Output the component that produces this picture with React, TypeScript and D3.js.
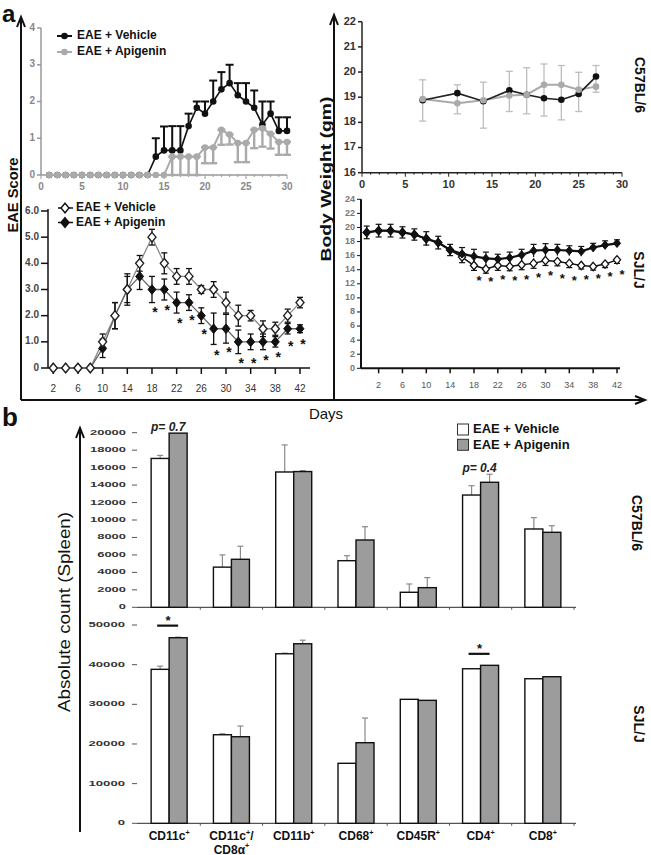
import React from 'react';
import * as d3 from 'd3';

const FONT = '"Liberation Sans", Arial, Helvetica, sans-serif';

// ---------- Panel a: C57BL/6 EAE score ----------
const c57Days = [1,2,3,4,5,6,7,8,9,10,11,12,13,14,15,16,17,18,19,20,21,22,23,24,25,26,27,28,29,30];
const c57VehScore = [0,0,0,0,0,0,0,0,0,0,0,0,0,0.5,0.67,0.67,0.67,1.33,1.83,1.67,2.0,2.33,2.5,2.17,2.0,1.83,1.37,1.67,1.2,1.2];
const c57VehScoreErr = [0,0,0,0,0,0,0,0,0,0,0,0,0,0.5,0.65,0.66,0.66,0.34,0.17,0.33,0.57,0.47,0.5,0.33,0.5,0.47,0.63,0.33,0.37,0.37];
const c57ApiScore = [0,0,0,0,0,0,0,0,0,0,0,0,0,0,0,0.5,0.5,0.5,0.5,0.75,0.75,1.23,1.1,0.87,0.87,1.23,1.27,1.12,0.9,0.9];
const c57ApiScoreErr = [0,0,0,0,0,0,0,0,0,0,0,0,0,0,0,0.5,0.5,0.5,0.5,0.43,0.43,0.41,0.27,0.52,0.52,0.5,0.5,0.4,0.35,0.35];
const c57ScoreXTicks = [0,5,10,15,20,25,30];
const c57ScoreYTicks = [0,1,2,3,4];

// ---------- Panel a: SJL/J EAE score ----------
const sjlDays = [2,4,6,8,10,12,14,16,18,20,22,24,26,28,30,32,34,36,38,40,42];
const sjlVehScore = [0,0,0,0,1.0,2.0,3.0,4.0,5.0,4.0,3.5,3.5,3.0,3.0,2.5,2.0,2.0,1.5,1.5,2.0,2.5];
const sjlVehScoreErr = [0,0,0,0,0.3,0.5,0.5,0.3,0.3,0.4,0.3,0.3,0.15,0.3,0.4,0.4,0.2,0.3,0.25,0.25,0.2];
const sjlApiScore = [0,0,0,0,0.75,2.0,3.0,3.5,3.0,3.0,2.5,2.5,2.0,1.5,1.5,1.0,1.0,1.0,1.0,1.5,1.5];
const sjlApiScoreErr = [0,0,0,0,0.35,0.5,0.6,0.5,0.5,0.4,0.4,0.3,0.3,0.6,0.55,0.45,0.3,0.3,0.2,0.2,0.15];
const sjlScoreStarDays = [18,20,22,24,26,28,30,32,34,36,38,40,42];
const sjlScoreStarLevel = [2.24,2.32,1.84,1.94,1.39,0.59,0.7,0.29,0.29,0.42,0.51,0.95,1.01];
const sjlScoreXTicks = [2,6,10,14,18,22,26,30,34,38,42];
const sjlScoreYTicks = [0,1,2,3,4,5,6];

// ---------- Panel a: C57BL/6 body weight ----------
const c57WtDays = [7,11,14,17,19,21,23,25,27];
const c57VehWt = [18.88,19.16,18.84,19.27,19.1,18.96,18.9,19.13,19.82];
const c57ApiWt = [18.93,18.76,18.88,19.07,19.1,19.49,19.49,19.3,19.42];
const c57WtErrHigh = [19.69,19.49,19.6,20.03,20.17,20.32,20.26,19.99,20.26];
const c57WtErrLow = [18.05,18.34,17.77,18.43,18.34,18.25,18.1,18.43,19.2];
const c57WtXTicks = [0,5,10,15,20,25,30];
const c57WtYTicks = [16,17,18,19,20,21,22];

// ---------- Panel a: SJL/J body weight ----------
const sjlWtDays = [0,2,4,6,8,10,12,14,16,18,20,22,24,26,28,30,32,34,36,38,40,42];
const sjlApiWt = [19.3,19.55,19.55,19.3,19.0,18.4,17.85,16.8,16.25,15.9,15.6,15.5,15.7,16.1,16.7,16.8,16.8,16.7,16.6,17.15,17.5,17.75];
const sjlApiWtErr = [0.9,0.9,0.9,0.8,0.8,1.0,0.9,0.8,0.9,1.0,0.9,0.7,0.8,0.8,0.9,0.9,0.8,0.7,0.7,0.6,0.6,0.5];
const sjlVehWt = [19.3,19.55,19.55,19.3,19.0,18.4,17.85,16.8,15.8,14.6,14.1,14.6,14.45,14.7,14.9,15.3,15.15,14.9,14.6,14.45,14.8,15.4];
const sjlVehWtErr = [0.9,0.9,0.9,0.8,0.8,0.9,0.9,0.8,0.8,0.7,0.6,0.7,0.6,0.7,0.7,0.7,0.6,0.6,0.5,0.5,0.5,0.5];
const sjlWtStarDays = [18,20,22,24,26,28,30,32,34,36,38,40,42];
const sjlWtStarLevel = [12.8,12.65,12.94,12.8,12.94,13.27,13.6,13.13,12.8,13.03,13.13,13.41,13.74];
const sjlWtXTicks = [2,6,10,14,18,22,26,30,34,38,42];
const sjlWtYTicks = [0,2,4,6,8,10,12,14,16,18,20,22,24];

// ---------- Panel b: spleen counts ----------
const cellTypes = ['CD11c+', 'CD11c+/CD8α+', 'CD11b+', 'CD68+', 'CD45R+', 'CD4+', 'CD8+'];
const cellTypeLines = [['CD11c+'], ['CD11c+/', 'CD8α+'], ['CD11b+'], ['CD68+'], ['CD45R+'], ['CD4+'], ['CD8+']];
const c57CountVeh = [17050, 4600, 15500, 5340, 1720, 12860, 8970];
const c57CountVehErr = [350, 1400, 3100, 570, 950, 1070, 1300];
const c57CountApi = [19950, 5500, 15550, 7710, 2250, 14320, 8590];
const c57CountApiErr = [0, 1500, 100, 1520, 1150, 920, 760];
const sjlCountVeh = [38820, 22330, 42750, 15130, 31260, 38970, 36450];
const sjlCountVehErr = [800, 250, 150, 0, 0, 0, 0];
const sjlCountApi = [46790, 21830, 45270, 20320, 31000, 39830, 36960];
const sjlCountApiErr = [150, 2700, 900, 6220, 0, 0, 0];
const c57CountTicks = [0,2000,4000,6000,8000,10000,12000,14000,16000,18000,20000];
const sjlCountTicks = [0,10000,20000,30000,40000,50000];
const c57PValues = [{ cat: 'CD11c+', text: 'p= 0.7' }, { cat: 'CD4+', text: 'p= 0.4' }];
const sjlSignificant = ['CD11c+', 'CD4+'];

const legendLabels = ['EAE + Vehicle', 'EAE + Apigenin'];

// ---------- helpers ----------
const diamond = (x: number, y: number, h: number, w: number) =>
  `M${x},${y - h}L${x + w},${y}L${x},${y + h}L${x - w},${y}Z`;

function Star({ x, y, size = 13 }: { x: number; y: number; size?: number }) {
  return (
    <text x={x} y={y + size * 0.55} fontSize={size} fontWeight="bold" textAnchor="middle" fill="#111">*</text>
  );
}

function SupText({ str, x, y, size, weight = 'bold' }: { str: string; x: number; y: number; size: number; weight?: string }) {
  const parts = str.split('+');
  const out: any[] = [];
  parts.forEach((p, i) => {
    if (p.length) out.push(<tspan key={'t' + i} dy={i > 0 ? size * 0.42 : 0}>{p}</tspan>);
    if (i < parts.length - 1) out.push(<tspan key={'s' + i} fontSize={size * 0.6} dy={-size * 0.42}>+</tspan>);
  });
  return (
    <text x={x} y={y} fontSize={size} fontWeight={weight} textAnchor="middle" fill="#111">{out}</text>
  );
}

export default function App() {
  // scales for panel a
  const tlX = d3.scaleLinear().domain([0, 30]).range([41, 287]);
  const tlY = d3.scaleLinear().domain([0, 4]).range([175, 28]);
  const blX = d3.scaleLinear().domain([2, 42]).range([53.3, 300]);
  const blY = d3.scaleLinear().domain([0, 6]).range([368, 211]);
  const trX = d3.scaleLinear().domain([0, 30]).range([362, 622]);
  const trY = d3.scaleLinear().domain([16, 22]).range([172.7, 21.7]);
  const brX = d3.scaleLinear().domain([0, 42]).range([366.7, 617]);
  const brY = d3.scaleLinear().domain([0, 24]).range([368.3, 199.3]);

  // scales for panel b
  const bx = d3.scaleBand().domain(cellTypes).range([138, 574]);
  const bw = 18;
  const topY = d3.scaleLinear().domain([0, 20000]).range([607.3, 432.7]);
  const botY = d3.scaleLinear().domain([0, 50000]).range([823.3, 625]);

  const lineOf = (xs: number[], ys: number[], sx: any, sy: any) =>
    d3.line<number>().x((_, i) => sx(xs[i])).y((d) => sy(d))(ys) || '';

  const tlMinor = d3.range(0, 31);
  const trMinor = d3.range(0, 31);

  const bandC = (c: string) => (bx(c) as number) + bx.bandwidth() / 2;

  const renderBars = (
    vals: number[], errs: number[], vals2: number[], errs2: number[], sy: any
  ) =>
    cellTypes.map((c, i) => {
      const cx = bandC(c);
      const y0 = sy(0);
      const bars = [
        { x: cx - bw, v: vals[i], e: errs[i], fill: '#ffffff' },
        { x: cx, v: vals2[i], e: errs2[i], fill: '#9c9c9c' },
      ];
      return (
        <g key={c}>
          {bars.map((b, j) => (
            <g key={j}>
              {b.e > 0 && (
                <g stroke="#8a8a8a" strokeWidth={1.2}>
                  <line x1={b.x + bw / 2} x2={b.x + bw / 2} y1={sy(b.v)} y2={sy(b.v + b.e)} />
                  <line x1={b.x + bw / 2 - 3} x2={b.x + bw / 2 + 3} y1={sy(b.v + b.e)} y2={sy(b.v + b.e)} />
                </g>
              )}
              <rect x={b.x} y={sy(b.v)} width={bw} height={y0 - sy(b.v)} fill={b.fill} stroke="#111" strokeWidth={1.4} />
            </g>
          ))}
        </g>
      );
    });

  return (
    <svg width={651} height={855} style={{ position: 'absolute', left: 0, top: 0, background: '#fff' }} fontFamily={FONT}>
      <rect x={0} y={0} width={651} height={855} fill="#fff" />

      {/* ===== panel labels ===== */}
      <text x={2} y={22} fontSize={24} fontWeight="bold" fill="#111">a</text>
      <text x={2} y={426} fontSize={26} fontWeight="bold" fill="#111">b</text>

      {/* ===== frame arrows panel a ===== */}
      <g stroke="#111" strokeWidth={2} fill="none">
        <line x1={21} y1={18} x2={21} y2={400} />
        <path d="M17,27L21,17L25,27" />
        <line x1={334} y1={16} x2={334} y2={400} />
        <path d="M330,25L334,15L338,25" />
        <line x1={21} y1={400} x2={644} y2={400} />
        <path d="M635,396L645,400L635,404" />
      </g>
      <text transform="translate(14,195) rotate(-90)" textAnchor="middle" dominantBaseline="middle" fontSize={15} fontWeight="bold" fill="#111" textLength={75} lengthAdjust="spacingAndGlyphs">EAE Score</text>
      <text transform="translate(327,179) rotate(-90)" textAnchor="middle" dominantBaseline="middle" fontSize={15} fontWeight="bold" fill="#111" textLength={165} lengthAdjust="spacingAndGlyphs">Body Weight (gm)</text>
      <text x={326} y={419} textAnchor="middle" fontSize={15} fill="#111">Days</text>
      <text transform="translate(639,85) rotate(90)" textAnchor="middle" dominantBaseline="middle" fontSize={14} fontWeight="bold" fill="#111">C57BL/6</text>
      <text transform="translate(638,270) rotate(90)" textAnchor="middle" dominantBaseline="middle" fontSize={14} fontWeight="bold" fill="#111">SJL/J</text>

      {/* ===== top-left: C57 EAE score ===== */}
      <g>
        <g stroke="#999" strokeWidth={1.5}>
          <line x1={tlX(0)} x2={tlX(0)} y1={tlY(4)} y2={tlY(0)} />
          <line x1={tlX(0)} x2={tlX(30)} y1={tlY(0)} y2={tlY(0)} />
          {c57ScoreYTicks.map((t) => (
            <line key={t} x1={tlX(0) - 4} x2={tlX(0)} y1={tlY(t)} y2={tlY(t)} />
          ))}
          {tlMinor.map((t) => (
            <line key={t} x1={tlX(t)} x2={tlX(t)} y1={tlY(0)} y2={tlY(0) + (t % 5 === 0 ? 4 : 2)} strokeWidth={1} />
          ))}
        </g>
        {c57ScoreYTicks.map((t) => (
          <text key={t} x={tlX(0) - 6} y={tlY(t)} textAnchor="end" dominantBaseline="middle" fontSize={10} fontWeight="bold" fill="#888">{t}</text>
        ))}
        {c57ScoreXTicks.map((t) => (
          <text key={t} x={tlX(t)} y={187} textAnchor="middle" dominantBaseline="middle" fontSize={10} fontWeight="bold" fill="#888">{t}</text>
        ))}
        {/* vehicle */}
        <path d={lineOf(c57Days, c57VehScore, tlX, tlY)} fill="none" stroke="#111" strokeWidth={1.6} />
        {c57Days.map((d, i) => c57VehScoreErr[i] > 0 && (
          <g key={d} stroke="#111" strokeWidth={2}>
            <line x1={tlX(d)} x2={tlX(d)} y1={tlY(c57VehScore[i])} y2={tlY(c57VehScore[i] + c57VehScoreErr[i])} />
            <line x1={tlX(d) - 4} x2={tlX(d) + 4} y1={tlY(c57VehScore[i] + c57VehScoreErr[i])} y2={tlY(c57VehScore[i] + c57VehScoreErr[i])} />
          </g>
        ))}
        {c57Days.map((d, i) => (
          <circle key={d} cx={tlX(d)} cy={tlY(c57VehScore[i])} r={3.3} fill="#111" />
        ))}
        {/* apigenin */}
        <path d={lineOf(c57Days, c57ApiScore, tlX, tlY)} fill="none" stroke="#aaa" strokeWidth={2} />
        {c57Days.map((d, i) => c57ApiScoreErr[i] > 0 && (
          <g key={d} stroke="#aaa" strokeWidth={2.4}>
            <line x1={tlX(d)} x2={tlX(d)} y1={tlY(c57ApiScore[i])} y2={tlY(c57ApiScore[i] - c57ApiScoreErr[i])} />
            <line x1={tlX(d) - 4} x2={tlX(d) + 4} y1={tlY(c57ApiScore[i] - c57ApiScoreErr[i])} y2={tlY(c57ApiScore[i] - c57ApiScoreErr[i])} />
            <line x1={tlX(d) - 4} x2={tlX(d) + 4} y1={tlY(c57ApiScore[i])} y2={tlY(c57ApiScore[i])} />
          </g>
        ))}
        {c57Days.map((d, i) => (
          <circle key={d} cx={tlX(d)} cy={tlY(c57ApiScore[i])} r={3.3} fill="#aaa" />
        ))}
        {/* legend */}
        {legendLabels.map((l, i) => (
          <g key={l}>
            <line x1={57} x2={72} y1={36 + i * 16} y2={36 + i * 16} stroke={i === 0 ? '#111' : '#aaa'} strokeWidth={2} />
            <circle cx={64.5} cy={36 + i * 16} r={3.3} fill={i === 0 ? '#111' : '#aaa'} />
            <text x={77} y={36 + i * 16} dominantBaseline="middle" fontSize={12} fontWeight="bold" fill="#111">{l}</text>
          </g>
        ))}
      </g>

      {/* ===== bottom-left: SJL EAE score ===== */}
      <g>
        <g stroke="#111" strokeWidth={1.5}>
          <line x1={48} x2={48} y1={blY(6) - 2} y2={blY(0)} />
          <line x1={48} x2={310} y1={blY(0)} y2={blY(0)} />
          {sjlScoreYTicks.map((t) => (
            <line key={t} x1={41} x2={48} y1={blY(t)} y2={blY(t)} />
          ))}
          {sjlScoreXTicks.map((t) => (
            <line key={t} x1={blX(t)} x2={blX(t)} y1={blY(0)} y2={blY(0) + 6} />
          ))}
        </g>
        {sjlScoreYTicks.map((t) => (
          <text key={t} x={39} y={blY(t)} textAnchor="end" dominantBaseline="middle" fontSize={10} fontWeight="bold" fill="#444">{t === 0 ? '0' : t.toFixed(1)}</text>
        ))}
        {sjlScoreXTicks.map((t) => (
          <text key={t} x={blX(t)} y={389} textAnchor="middle" dominantBaseline="middle" fontSize={10} fill="#333">{t}</text>
        ))}
        <path d={lineOf(sjlDays, sjlVehScore, blX, blY)} fill="none" stroke="#8a8a8a" strokeWidth={1.3} />
        <path d={lineOf(sjlDays, sjlApiScore, blX, blY)} fill="none" stroke="#666" strokeWidth={1.3} />
        {sjlDays.map((d, i) => (
          <g key={d} stroke="#111" strokeWidth={1.3}>
            {sjlVehScoreErr[i] > 0 && (
              <g>
                <line x1={blX(d)} x2={blX(d)} y1={blY(sjlVehScore[i] - sjlVehScoreErr[i])} y2={blY(sjlVehScore[i] + sjlVehScoreErr[i])} />
                <line x1={blX(d) - 3} x2={blX(d) + 3} y1={blY(sjlVehScore[i] + sjlVehScoreErr[i])} y2={blY(sjlVehScore[i] + sjlVehScoreErr[i])} />
                <line x1={blX(d) - 3} x2={blX(d) + 3} y1={blY(sjlVehScore[i] - sjlVehScoreErr[i])} y2={blY(sjlVehScore[i] - sjlVehScoreErr[i])} />
              </g>
            )}
            {sjlApiScoreErr[i] > 0 && (
              <g>
                <line x1={blX(d)} x2={blX(d)} y1={blY(sjlApiScore[i] - sjlApiScoreErr[i])} y2={blY(sjlApiScore[i] + sjlApiScoreErr[i])} />
                <line x1={blX(d) - 3} x2={blX(d) + 3} y1={blY(sjlApiScore[i] + sjlApiScoreErr[i])} y2={blY(sjlApiScore[i] + sjlApiScoreErr[i])} />
                <line x1={blX(d) - 3} x2={blX(d) + 3} y1={blY(sjlApiScore[i] - sjlApiScoreErr[i])} y2={blY(sjlApiScore[i] - sjlApiScoreErr[i])} />
              </g>
            )}
          </g>
        ))}
        {sjlDays.map((d, i) => (
          <path key={'a' + d} d={diamond(blX(d), blY(sjlApiScore[i]), 4.8, 4)} fill="#111" stroke="#111" strokeWidth={1} />
        ))}
        {sjlDays.map((d, i) => (
          <path key={'v' + d} d={diamond(blX(d), blY(sjlVehScore[i]), 4.8, 4)} fill="#fff" stroke="#222" strokeWidth={1.4} />
        ))}
        {sjlScoreStarDays.map((d, i) => (
          <Star key={d} x={blX(d) + 3} y={blY(sjlScoreStarLevel[i])} size={14} />
        ))}
        {legendLabels.map((l, i) => (
          <g key={l}>
            <line x1={58} x2={73} y1={208 + i * 14.5} y2={208 + i * 14.5} stroke="#111" strokeWidth={1.5} />
            <path d={diamond(65, 208 + i * 14.5, 4.8, 4)} fill={i === 0 ? '#fff' : '#111'} stroke="#111" strokeWidth={1.4} />
            <text x={76} y={208 + i * 14.5} dominantBaseline="middle" fontSize={12} fontWeight="bold" fill="#111">{l}</text>
          </g>
        ))}
      </g>

      {/* ===== top-right: C57 body weight ===== */}
      <g>
        <g stroke="#222" strokeWidth={1.5}>
          <line x1={trX(0)} x2={trX(0)} y1={trY(22)} y2={trY(16)} />
          <line x1={trX(0)} x2={trX(30)} y1={trY(16)} y2={trY(16)} />
          {c57WtYTicks.map((t) => (
            <line key={t} x1={trX(0) - 4} x2={trX(0)} y1={trY(t)} y2={trY(t)} />
          ))}
          {trMinor.map((t) => (
            <line key={t} x1={trX(t)} x2={trX(t)} y1={trY(16)} y2={trY(16) + (t % 5 === 0 ? 4 : 2)} strokeWidth={1} />
          ))}
        </g>
        {c57WtYTicks.map((t) => (
          <text key={t} x={356} y={trY(t)} textAnchor="end" dominantBaseline="middle" fontSize={11} fontWeight="bold" fill="#333">{t}</text>
        ))}
        {c57WtXTicks.map((t) => (
          <text key={t} x={trX(t)} y={185} textAnchor="middle" dominantBaseline="middle" fontSize={11} fontWeight="bold" fill="#333">{t}</text>
        ))}
        {c57WtDays.map((d, i) => (
          <g key={d} stroke="#bdbdbd" strokeWidth={1.3}>
            <line x1={trX(d)} x2={trX(d)} y1={trY(c57WtErrLow[i])} y2={trY(c57WtErrHigh[i])} />
            <line x1={trX(d) - 3.5} x2={trX(d) + 3.5} y1={trY(c57WtErrHigh[i])} y2={trY(c57WtErrHigh[i])} />
            <line x1={trX(d) - 3.5} x2={trX(d) + 3.5} y1={trY(c57WtErrLow[i])} y2={trY(c57WtErrLow[i])} />
          </g>
        ))}
        <path d={lineOf(c57WtDays, c57ApiWt, trX, trY)} fill="none" stroke="#aaa" strokeWidth={2} />
        <path d={lineOf(c57WtDays, c57VehWt, trX, trY)} fill="none" stroke="#222" strokeWidth={1.6} />
        {c57WtDays.map((d, i) => (
          <circle key={'v' + d} cx={trX(d)} cy={trY(c57VehWt[i])} r={3.3} fill="#111" />
        ))}
        {c57WtDays.map((d, i) => (
          <circle key={'a' + d} cx={trX(d)} cy={trY(c57ApiWt[i])} r={3.3} fill="#aaa" />
        ))}
      </g>

      {/* ===== bottom-right: SJL body weight ===== */}
      <g>
        <g stroke="#111" strokeWidth={2}>
          <line x1={361} x2={361} y1={brY(24)} y2={brY(0)} />
          <line x1={361} x2={620} y1={brY(0)} y2={brY(0)} />
          {sjlWtYTicks.map((t) => (
            <line key={t} x1={357} x2={361} y1={brY(t)} y2={brY(t)} strokeWidth={1} />
          ))}
          {sjlWtXTicks.map((t) => (
            <line key={t} x1={brX(t)} x2={brX(t)} y1={brY(0)} y2={brY(0) + 5} strokeWidth={1.5} />
          ))}
        </g>
        {sjlWtYTicks.map((t) => (
          <text key={t} x={355} y={brY(t)} textAnchor="end" dominantBaseline="middle" fontSize={9} fontWeight="bold" fill="#777">{t}</text>
        ))}
        {sjlWtXTicks.map((t) => (
          <text key={t} x={brX(t)} y={386} textAnchor="middle" dominantBaseline="middle" fontSize={9} fill="#555">{t}</text>
        ))}
        <path d={lineOf(sjlWtDays, sjlVehWt, brX, brY)} fill="none" stroke="#111" strokeWidth={1.5} />
        <path d={lineOf(sjlWtDays, sjlApiWt, brX, brY)} fill="none" stroke="#111" strokeWidth={2.2} />
        {sjlWtDays.map((d, i) => (
          <g key={d} stroke="#111" strokeWidth={1.2}>
            <line x1={brX(d)} x2={brX(d)} y1={brY(sjlVehWt[i] - sjlVehWtErr[i])} y2={brY(sjlVehWt[i] + sjlVehWtErr[i])} />
            <line x1={brX(d) - 3} x2={brX(d) + 3} y1={brY(sjlVehWt[i] - sjlVehWtErr[i])} y2={brY(sjlVehWt[i] - sjlVehWtErr[i])} />
            <line x1={brX(d)} x2={brX(d)} y1={brY(sjlApiWt[i] - sjlApiWtErr[i])} y2={brY(sjlApiWt[i] + sjlApiWtErr[i])} />
            <line x1={brX(d) - 3} x2={brX(d) + 3} y1={brY(sjlApiWt[i] + sjlApiWtErr[i])} y2={brY(sjlApiWt[i] + sjlApiWtErr[i])} />
          </g>
        ))}
        {sjlWtDays.map((d, i) => (
          <path key={'v' + d} d={diamond(brX(d), brY(sjlVehWt[i]), 4.2, 3.6)} fill="#fff" stroke="#111" strokeWidth={1.3} />
        ))}
        {sjlWtDays.map((d, i) => (
          <path key={'a' + d} d={diamond(brX(d), brY(sjlApiWt[i]), 4.2, 3.6)} fill="#111" stroke="#111" strokeWidth={1} />
        ))}
        {sjlWtStarDays.map((d, i) => (
          <Star key={d} x={brX(d) + 5} y={brY(sjlWtStarLevel[i])} size={13} />
        ))}
      </g>

      {/* ===== panel b ===== */}
      <g stroke="#111" strokeWidth={2} fill="none">
        <line x1={80} y1={429} x2={80} y2={832} />
        <path d="M76,438L80,428L84,438" />
      </g>
      <text transform="translate(66,612) rotate(-90)" textAnchor="middle" dominantBaseline="middle" fontSize={16} fill="#111" textLength={200} lengthAdjust="spacingAndGlyphs">Absolute count (Spleen)</text>
      <text transform="translate(636,523) rotate(90)" textAnchor="middle" dominantBaseline="middle" fontSize={14} fontWeight="bold" fill="#111">C57BL/6</text>
      <text transform="translate(638,724) rotate(90)" textAnchor="middle" dominantBaseline="middle" fontSize={14} fontWeight="bold" fill="#111">SJL/J</text>

      {/* legend */}
      {legendLabels.map((l, i) => (
        <g key={l}>
          <rect x={457.5} y={424 + i * 15.3} width={11} height={11} fill={i === 0 ? '#fff' : '#9c9c9c'} stroke="#333" strokeWidth={1} />
          <text x={473} y={429.8 + i * 15.3} dominantBaseline="middle" fontSize={13} fontWeight="bold" fill="#111">{l}</text>
        </g>
      ))}

      {/* top bar chart */}
      <g>
        <line x1={137} x2={576} y1={topY(0)} y2={topY(0)} stroke="#555" strokeWidth={1.2} />
        {cellTypes.map((c) => (
          <line key={c} x1={(bx(c) as number) + bx.bandwidth()} x2={(bx(c) as number) + bx.bandwidth()} y1={topY(0)} y2={topY(0) + 2.5} stroke="#555" strokeWidth={1} />
        ))}
        {c57CountTicks.map((t) => (
          <g key={t}>
            <line x1={132} x2={137} y1={topY(t)} y2={topY(t)} stroke="#555" strokeWidth={1} />
            <text x={126} y={topY(t)} textAnchor="end" dominantBaseline="middle" fontSize={7.5} fontWeight="bold" fill="#333"
              textLength={String(t).length * 7.2} lengthAdjust="spacingAndGlyphs">{t}</text>
          </g>
        ))}
        {renderBars(c57CountVeh, c57CountVehErr, c57CountApi, c57CountApiErr, topY)}
        {c57PValues.map((p) => {
          const i = cellTypes.indexOf(p.cat);
          const top = Math.max(c57CountVeh[i] + c57CountVehErr[i], c57CountApi[i] + c57CountApiErr[i]);
          return (
            <text key={p.cat} x={bandC(p.cat) - 1} y={topY(top) - 2} textAnchor="middle" fontSize={12} fontWeight="bold" fontStyle="italic" fill="#222">{p.text}</text>
          );
        })}
      </g>

      {/* bottom bar chart */}
      <g>
        <line x1={137} x2={576} y1={botY(0)} y2={botY(0)} stroke="#555" strokeWidth={1.2} />
        {cellTypes.map((c) => (
          <line key={c} x1={(bx(c) as number) + bx.bandwidth()} x2={(bx(c) as number) + bx.bandwidth()} y1={botY(0)} y2={botY(0) + 2.5} stroke="#555" strokeWidth={1} />
        ))}
        {sjlCountTicks.map((t) => (
          <g key={t}>
            <line x1={132} x2={137} y1={botY(t)} y2={botY(t)} stroke="#555" strokeWidth={1} />
            <text x={125} y={botY(t)} textAnchor="end" dominantBaseline="middle" fontSize={7.5} fontWeight="bold" fill="#333"
              textLength={String(t).length * 7.3} lengthAdjust="spacingAndGlyphs">{t}</text>
          </g>
        ))}
        {renderBars(sjlCountVeh, sjlCountVehErr, sjlCountApi, sjlCountApiErr, botY)}
        {sjlSignificant.map((c) => {
          const i = cellTypes.indexOf(c);
          const top = Math.max(sjlCountVeh[i] + sjlCountVehErr[i], sjlCountApi[i] + sjlCountApiErr[i]);
          const ly = botY(top) - 11.5;
          const cx = bandC(c);
          return (
            <g key={c}>
              <line x1={cx - 12} x2={cx + 9} y1={ly} y2={ly} stroke="#111" strokeWidth={2.2} />
              <Star x={cx - 1} y={ly - 8} size={13} />
            </g>
          );
        })}
        {cellTypes.map((c, i) => (
          <g key={c}>
            {cellTypeLines[i].map((ln, k) => (
              <SupText key={k} str={ln} x={bandC(c)} y={840 + k * 13.5} size={12} />
            ))}
          </g>
        ))}
      </g>
    </svg>
  );
}
